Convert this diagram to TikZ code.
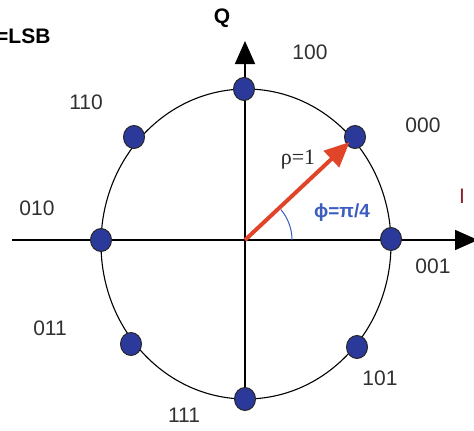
\documentclass[tikz,border=0pt]{standalone}
\usepackage{fontspec}
\setmainfont{Liberation Sans}
\newfontfamily\serifgr{Liberation Serif}
\usetikzlibrary{arrows.meta,shapes.geometric}
\definecolor{dotblue}{HTML}{2B3A9A}
\definecolor{arrred}{HTML}{E0452A}
\definecolor{angblue}{HTML}{3C5CC0}
\definecolor{lblcol}{HTML}{303030}
\definecolor{icol}{HTML}{8A2030}
\begin{document}
\begin{tikzpicture}[x=1pt,y=-1pt,
  dot/.style={ellipse,draw=black!85,line width=1pt,fill=dotblue,minimum width=21pt,minimum height=23pt,inner sep=0pt},
  lbl/.style={font=\fontsize{21}{21}\selectfont,text=lblcol},
  axis/.style={line width=1.5pt,-{Triangle[length=23pt,width=20pt]}}]
\useasboundingbox (0,0) rectangle (474,431);
\coordinate (o) at (245,240);
\coordinate (xl) at (12,240);
\coordinate (xr) at (478,240);
\coordinate (yb) at (245,411);
\coordinate (yt) at (245,41);
\draw[line width=1.1pt] (246,244) ellipse [x radius=145, y radius=155];
\draw[axis] (xl) -- (xr);
\draw[axis] (yb) -- (yt);
\node[dot] (d100) at (244,89) {};
\node[dot] (d000) at (355,137) {};
\node[dot] (d001) at (391,239) {};
\node[dot] (d101) at (357,347) {};
\node[dot] (d111) at (245,399) {};
\node[dot] (d011) at (131,344) {};
\node[dot] (d010) at (101,240) {};
\node[dot] (d110) at (134,137) {};
\draw[arrred,line width=4pt,-{Triangle[length=25pt,width=22pt]},shorten >=-4pt] (o) -- (d000);
\draw[angblue,line width=1pt] (o) ++(47,0) arc[start angle=0,end angle=-40,radius=47];
\node[font=\bfseries\fontsize{21}{21}\selectfont] (q) at (222,18) {Q};
\node[font=\fontsize{21}{21}\selectfont,text=icol] (i) at (462,196) {I};
\node[font=\bfseries\fontsize{21}{21}\selectfont,anchor=east] (lsb) at (54,36) {=LSB};
\node[lbl] (l100) at (310,52) {100};
\node[lbl] (l110) at (86,102) {110};
\node[lbl] (l000) at (423,125) {000};
\node[lbl] (l010) at (37,208) {010};
\node[lbl] (l001) at (433,266) {001};
\node[lbl] (l011) at (50,328) {011};
\node[lbl] (l101) at (380,378) {101};
\node[lbl] (l111) at (184,415) {111};
\node[font=\serifgr\fontsize{22}{22}\selectfont,text=black!85] (rho) at (298,160) {ρ=1};
\node[font=\bfseries\fontsize{19}{19}\selectfont,text=angblue] (phi) at (342,213) {ϕ=π/4};
\end{tikzpicture}
\end{document}
